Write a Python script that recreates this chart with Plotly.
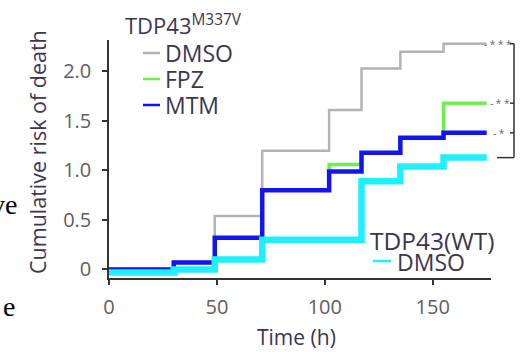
import plotly.graph_objects as go

# ---- data ----
time_h = [0, 30, 49, 71, 102, 117, 135, 155, 175]
dmso_m337v = [0, 0, 0.54, 1.20, 1.61, 2.03, 2.20, 2.28, 2.28]
fpz_m337v = [0, 0.07, 0.32, 0.80, 1.06, 1.18, 1.33, 1.68, 1.68]
mtm_m337v = [0, 0.07, 0.32, 0.80, 0.99, 1.18, 1.33, 1.38, 1.38]
dmso_wt = [-0.03, 0.0, 0.10, 0.30, 0.30, 0.89, 1.04, 1.13, 1.13]

x_ticks = [0, 50, 100, 150]
y_ticks = [0, 0.5, 1.0, 1.5, 2.0]
y_tick_labels = ["0", "0.5", "1.0", "1.5", "2.0"]
significance = ["- * * *", "- * *", "- *"]

# ---- styles ----
C_GREY = "#b3b3b3"
C_GREEN = "#6cf04a"
C_BLUE = "#1414f0"
C_CYAN = "#1ff0ff"
TXT = "#3c3650"
TICK_TXT = "#5e5e5e"
FONT = "Open Sans"

W, H = 523, 352
L, R, T, B = 109, 32, 40, 74
PW, PH = W - L - R, H - T - B
Y_RANGE = [-0.086, 2.318]


def px2x(px):
    return (px - L) / PW


def px2y(py):
    return (H - B - py) / PH


def v2y(v):
    return (v - Y_RANGE[0]) / (Y_RANGE[1] - Y_RANGE[0])


fig = go.Figure()
series = [
    ("DMSO", dmso_m337v, C_GREY, 2.5),
    ("FPZ", fpz_m337v, C_GREEN, 3.5),
    ("MTM", mtm_m337v, C_BLUE, 4.5),
    ("DMSO (WT)", dmso_wt, C_CYAN, 6.5),
]
for name, vals, col, w in series:
    fig.add_trace(go.Scatter(x=time_h, y=vals, mode="lines", name=name,
                             line=dict(color=col, width=w, shape="hv"),
                             showlegend=False, hoverinfo="skip"))

fig.update_layout(
    width=W, height=H,
    margin=dict(l=L, r=R, t=T, b=B, autoexpand=False),
    paper_bgcolor="white", plot_bgcolor="white",
    font=dict(family=FONT, color=TXT),
    xaxis=dict(range=[0, 177], tickvals=x_ticks, showgrid=False, zeroline=False,
               showline=True, linecolor="#333333", linewidth=1.5,
               ticks="outside", ticklen=5, tickwidth=1.5, tickcolor="#333333",
               tickfont=dict(size=20, color=TICK_TXT, family=FONT),
               ticklabelstandoff=5),
    yaxis=dict(range=Y_RANGE, tickvals=y_ticks, ticktext=y_tick_labels,
               showgrid=False, zeroline=False,
               showline=True, linecolor="#333333", linewidth=1.5,
               ticks="outside", ticklen=5, tickwidth=1.5, tickcolor="#333333",
               tickfont=dict(size=20, color=TICK_TXT, family=FONT),
               ticklabelstandoff=7),
)

ann = []
# axis titles
ann.append(dict(text="Time (h)", x=px2x(296), y=px2y(337), xref="paper", yref="paper",
                showarrow=False, xanchor="center", yanchor="middle",
                font=dict(size=21, color=TXT, family=FONT)))
ann.append(dict(text="Cumulative risk of death", x=px2x(37), y=px2y(152),
                xref="paper", yref="paper", showarrow=False, textangle=-90,
                xanchor="center", yanchor="middle",
                font=dict(size=21.5, color=TXT, family=FONT)))
# legend block (M337V)
ann.append(dict(text="TDP43<sup>M337V</sup>", x=px2x(123), y=px2y(24), xref="paper",
                yref="paper", showarrow=False, xanchor="left", yanchor="middle",
                font=dict(size=22, color=TXT, family=FONT)))
shapes = []
for (label, col, ypx) in [("DMSO", C_GREY, 53), ("FPZ", C_GREEN, 79), ("MTM", C_BLUE, 105)]:
    shapes.append(dict(type="line", xref="paper", yref="paper",
                       x0=px2x(143), x1=px2x(160), y0=px2y(ypx), y1=px2y(ypx),
                       line=dict(color=col, width=2.5)))
    ann.append(dict(text=label, x=px2x(163), y=px2y(ypx), xref="paper", yref="paper",
                    showarrow=False, xanchor="left", yanchor="middle",
                    font=dict(size=23, color=TXT, family=FONT)))
# legend block (WT)
ann.append(dict(text="TDP43(WT)", x=px2x(368), y=px2y(240), xref="paper", yref="paper",
                showarrow=False, xanchor="left", yanchor="middle",
                font=dict(size=24.5, color=TXT, family=FONT)))
shapes.append(dict(type="line", xref="paper", yref="paper",
                   x0=px2x(373), x1=px2x(391), y0=px2y(261), y1=px2y(261),
                   line=dict(color=C_CYAN, width=2.5)))
ann.append(dict(text="DMSO", x=px2x(395), y=px2y(262), xref="paper", yref="paper",
                showarrow=False, xanchor="left", yanchor="middle",
                font=dict(size=23, color=TXT, family=FONT)))

# significance markers and bracket
ends = [dmso_m337v[-1], fpz_m337v[-1], mtm_m337v[-1]]
starts_px = [482, 488, 491]
for txt, yv, spx in zip(significance, ends, starts_px):
    ann.append(dict(text=txt, x=px2x(spx), y=v2y(yv), xref="paper", yref="paper",
                    showarrow=False, xanchor="left", yanchor="middle",
                    font=dict(size=10, color="#666666", family=FONT)))
bx = px2x(514)
shapes.append(dict(type="line", xref="paper", yref="paper", x0=bx, x1=bx,
                   y0=v2y(dmso_wt[-1]), y1=v2y(dmso_m337v[-1]),
                   line=dict(color="#333333", width=1.5)))
for yv in ends:
    shapes.append(dict(type="line", xref="paper", yref="paper", x0=px2x(510), x1=bx,
                       y0=v2y(yv), y1=v2y(yv), line=dict(color="#333333", width=1.5)))
shapes.append(dict(type="line", xref="paper", yref="paper", x0=px2x(497), x1=bx,
                   y0=v2y(dmso_wt[-1]), y1=v2y(dmso_wt[-1]),
                   line=dict(color="#333333", width=1.5)))

# stray text fragments at the left edge
ann.append(dict(text="ve", x=px2x(19), y=px2y(204), xref="paper", yref="paper",
                showarrow=False, xanchor="right", yanchor="middle",
                font=dict(size=28, color="black", family="Liberation Serif")))
ann.append(dict(text="e", x=px2x(17), y=px2y(306), xref="paper", yref="paper",
                showarrow=False, xanchor="right", yanchor="middle",
                font=dict(size=28, color="black", family="Liberation Serif")))

fig.update_layout(annotations=ann, shapes=shapes)
fig.write_html("out.html", config={"displayModeBar": False},
               post_script="document.body.style.margin='0';")
